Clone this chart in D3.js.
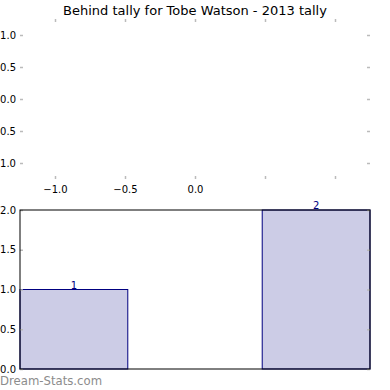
<!DOCTYPE html>
<html>
<head>
<meta charset="utf-8">
<script src="https://cdn.jsdelivr.net/npm/d3@7"></script>
<style>
html,body{margin:0;padding:0;background:#fff;}
svg{display:block;}
text{font-family:"DejaVu Sans",sans-serif;}
</style>
</head>
<body>
<svg id="chart" width="390" height="390"></svg>
<script>
const title = "Behind tally for Tobe Watson - 2013 tally";
// Empty top panel ticks
const topXTicks = [-1.0, -0.5, 0.0, 0.5, 1.0];
const topXLabels = ["\u22121.0", "\u22120.5", "0.0", "", ""];
const topYTicks = [1.0, 0.5, 0.0, -0.5, -1.0];
// Bar panel
const categories = ["A", "B"];
const positions = [0, 1];
const values = [1, 2];
const barYTicks = [0.0, 0.5, 1.0, 1.5, 2.0];
const watermark = "Dream-Stats.com";

const svg = d3.select("#chart");
const tickColor = "#bbbbbb";

// Title
svg.append("text").attr("x", 195).attr("y", 15).attr("text-anchor", "middle")
  .attr("font-size", "13px").attr("fill", "#000").text(title);

// ---- Top empty panel ----
const tL = 20, tR = 370, tT = 19, tB = 179;
const tx = d3.scaleLinear().domain([-1.25, 1.25]).range([tL, tR]);
const ty = d3.scaleLinear().domain([-1.25, 1.25]).range([tB, tT]);
const topG = svg.append("g");
const tickLen = 3;
function styleTicks(g){ g.selectAll(".tick line").attr("stroke", tickColor).attr("stroke-width", 1.5); g.select(".domain").remove(); }
function styleText(g){ g.selectAll("text").attr("font-size","10px").attr("fill","#000").attr("font-family","DejaVu Sans"); }

topG.append("g").attr("transform", `translate(0,${tB})`)
  .call(d3.axisBottom(tx).tickValues(topXTicks).tickSizeInner(-tickLen).tickSizeOuter(0).tickPadding(7)
    .tickFormat((d,i)=>topXLabels[i]))
  .call(styleTicks).call(styleText);
topG.append("g").attr("transform", `translate(0,${tT})`)
  .call(d3.axisTop(tx).tickValues(topXTicks).tickSizeInner(-tickLen).tickSizeOuter(0).tickFormat(""))
  .call(styleTicks);
topG.append("g").attr("transform", `translate(${tL},0)`)
  .call(d3.axisLeft(ty).tickValues(topYTicks).tickSizeInner(-tickLen).tickSizeOuter(0).tickPadding(4)
    .tickFormat(d=> d<0 ? "\u2212"+Math.abs(d).toFixed(1) : d.toFixed(1)))
  .call(styleTicks).call(styleText);
topG.append("g").attr("transform", `translate(${tR},0)`)
  .call(d3.axisRight(ty).tickValues(topYTicks).tickSizeInner(-tickLen).tickSizeOuter(0).tickFormat(""))
  .call(styleTicks);

// ---- Bar panel ----
const bL = 20, bR = 370, bT = 210, bB = 369;
const barW = 0.445;
const bx = d3.scaleLinear().domain([0, 1 + barW]).range([bL, bR]);
const by = d3.scaleLinear().domain([0, 2]).range([bB, bT]);
const bG = svg.append("g");

bG.selectAll("rect.bar").data(values).enter().append("rect")
  .attr("class","bar")
  .attr("x", (d,i)=>bx(positions[i]))
  .attr("width", (d,i)=>bx(positions[i]+barW)-bx(positions[i]))
  .attr("y", d=>by(d))
  .attr("height", d=>by(0)-by(d))
  .attr("fill", "#ccccE6").attr("stroke", "#000080").attr("stroke-width", 1);

bG.selectAll("text.val").data(values).enter().append("text")
  .attr("class","val")
  .attr("x", (d,i)=>bx(positions[i]+barW/2))
  .attr("y", d=>by(d)-1)
  .attr("text-anchor","middle").attr("font-size","10px").attr("fill","#000080")
  .text(d=>d);

bG.append("g").attr("transform", `translate(${bL},0)`)
  .call(d3.axisLeft(by).tickValues(barYTicks).tickSizeInner(-tickLen).tickSizeOuter(0).tickPadding(4)
    .tickFormat(d=>d.toFixed(1)))
  .call(styleTicks).call(styleText);
bG.append("g").attr("transform", `translate(${bR},0)`)
  .call(d3.axisRight(by).tickValues(barYTicks).tickSizeInner(-tickLen).tickSizeOuter(0).tickFormat(""))
  .call(styleTicks);

// frame
bG.append("rect").attr("x", bL).attr("y", bT).attr("width", bR-bL).attr("height", bB-bT)
  .attr("fill","none").attr("stroke","#000").attr("stroke-width",1);

// watermark
svg.append("text").attr("x", 0).attr("y", 384.5).attr("font-size","11.7px")
  .attr("font-family","DejaVu Sans, sans-serif")
  .attr("fill","#8c8c8c").text(watermark);
</script>
</body>
</html>
